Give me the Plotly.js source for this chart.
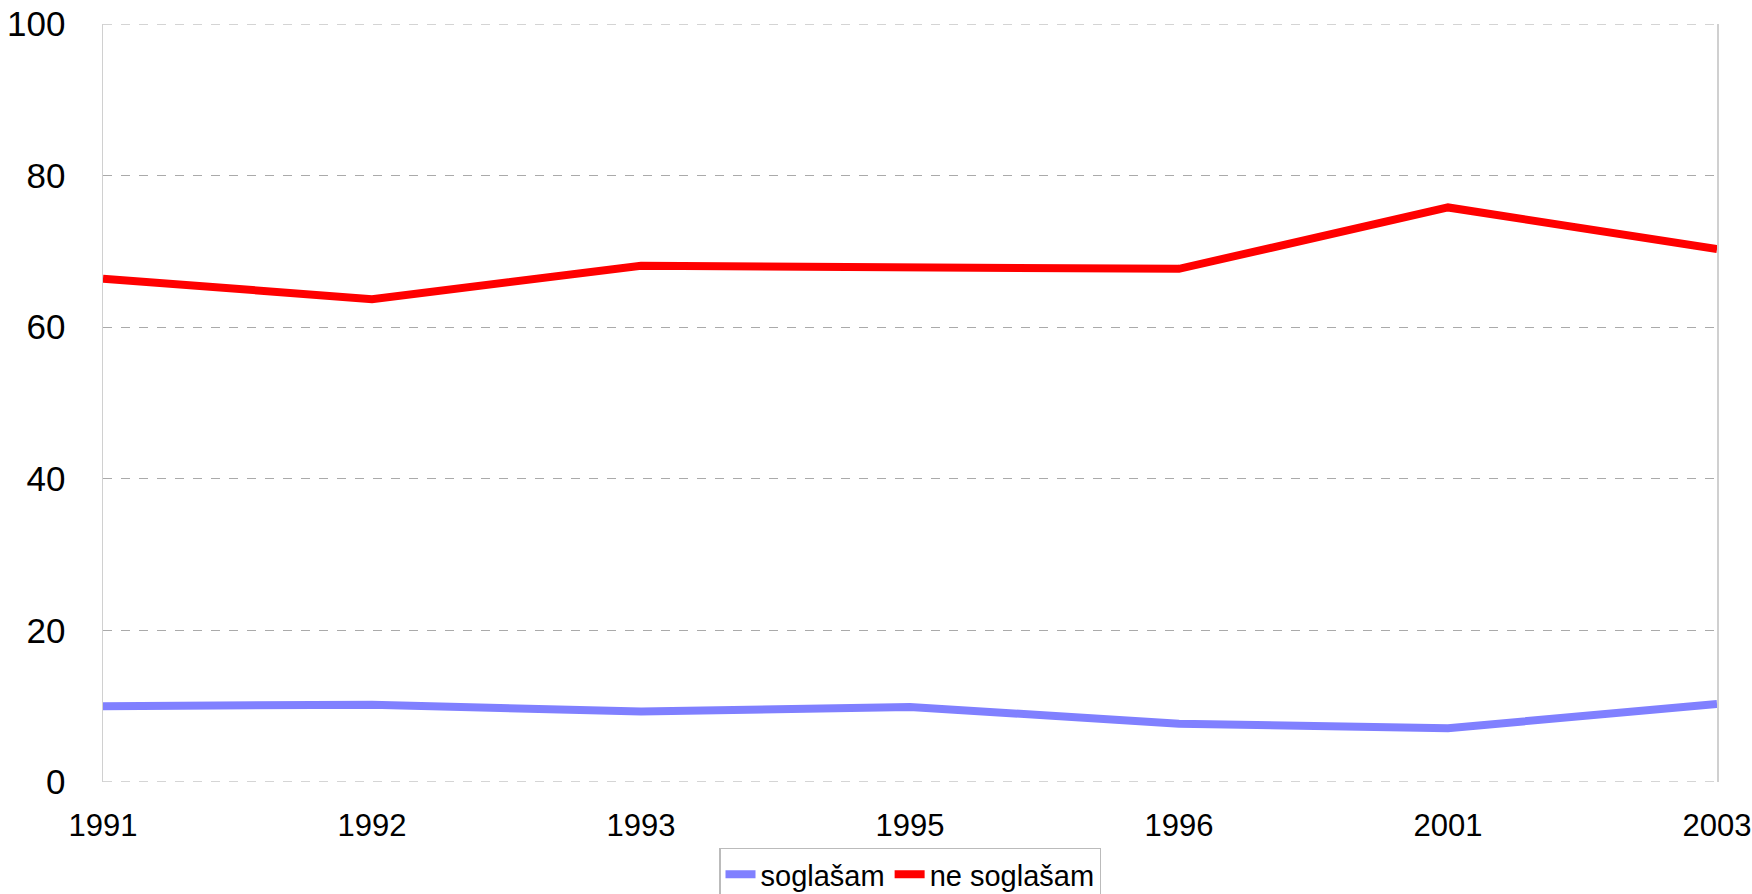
<!DOCTYPE html>
<html>
<head>
<meta charset="utf-8">
<script src="https://cdn.plot.ly/plotly-3.0.1.min.js"></script>
<style>html,body{margin:0;padding:0;background:#fff;}#chart{width:1752px;height:894px;}</style>
</head>
<body>
<div id="chart"></div>
<script>
const years = ["1991", "1992", "1993", "1995", "1996", "2001", "2003"];
const soglasam = [10.0, 10.2, 9.3, 9.9, 7.7, 7.1, 10.3];
const neSoglasam = [66.4, 63.7, 68.1, 67.9, 67.7, 75.8, 70.3];
const yTicks = [0, 20, 40, 60, 80, 100];
const yRange = [0, 100];

const traces = [
  {x: years, y: soglasam, type: 'scatter', mode: 'lines', name: 'soglašam',
   line: {color: '#8080ff', width: 8}},
  {x: years, y: neSoglasam, type: 'scatter', mode: 'lines', name: 'ne soglašam',
   line: {color: '#ff0000', width: 8}}
];

const edgeShapes = yRange.map(v => ({
  type: 'line', xref: 'paper', yref: 'y', x0: 0, x1: 1, y0: v, y1: v,
  line: {color: '#aaaaaa', width: 1, dash: 'dash'}, layer: 'below'
}));

const layout = {
  width: 1752, height: 894,
  margin: {l: 103, r: 35, t: 24, b: 112, autoexpand: false},
  paper_bgcolor: '#ffffff', plot_bgcolor: '#ffffff',
  font: {family: 'Liberation Sans, Arial, sans-serif', color: '#000'},
  showlegend: true,
  legend: {orientation: 'h', x: 0.5, xanchor: 'center', xref: 'paper',
           y: 0.052, yanchor: 'top', yref: 'container',
           font: {size: 29, color: '#000'}, bordercolor: '#bbbbbb', borderwidth: 1.5,
           itemwidth: 30, tracegroupgap: 0},
  shapes: edgeShapes,
  xaxis: {type: 'category', range: [0, 6], showgrid: false, zeroline: false,
          showline: false, ticks: 'outside', ticklen: 16, tickcolor: 'rgba(0,0,0,0)',
          tickfont: {size: 31}, fixedrange: true, automargin: false},
  yaxis: {range: yRange, tickvals: yTicks, showgrid: true, gridcolor: '#aaaaaa',
          griddash: 'dash', gridwidth: 1, zeroline: false, showline: true, mirror: true,
          linecolor: '#d0d0d0', linewidth: 1.5, ticks: 'outside', ticklen: 29,
          tickcolor: 'rgba(0,0,0,0)', tickfont: {size: 35}, fixedrange: true, automargin: false}
};

Plotly.newPlot('chart', traces, layout, {displayModeBar: false, staticPlot: true});
</script>
</body>
</html>
